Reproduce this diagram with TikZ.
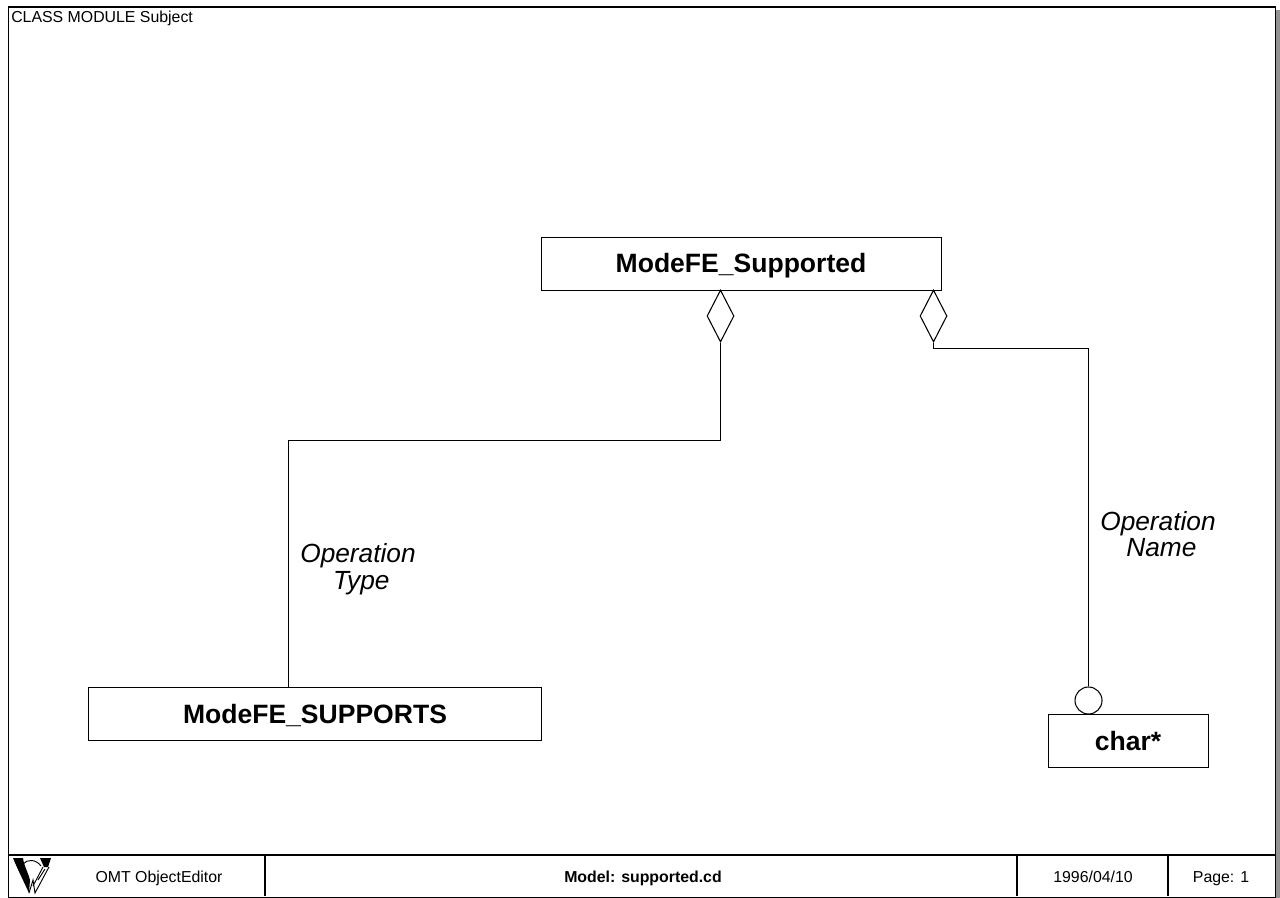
\documentclass[tikz,border=0pt]{standalone}
\usepackage{fontspec}
\setmainfont{Liberation Sans}
\usetikzlibrary{shapes.geometric}
\tikzset{
  x=0.75pt,y=-0.75pt,
  ln/.style={draw=black,line width=0.8pt},
  cls/.style={ln,fill=white,inner sep=0pt,anchor=north west},
  clstext/.style={inner sep=0pt,anchor=base,font=\fontsize{19.9pt}{22pt}\selectfont\bfseries},
  role/.style={align=center,inner sep=0pt,font=\fontsize{19.7pt}{20pt}\selectfont\itshape},
  small/.style={inner sep=0pt,anchor=base,font=\fontsize{11.9pt}{13pt}\selectfont},
  smallb/.style={inner sep=0pt,anchor=base,font=\fontsize{11.9pt}{13pt}\selectfont\bfseries},
  aggr/.style={ln,fill=white,diamond,aspect=1.7,inner sep=0pt,minimum width=27*0.75pt,minimum height=52*0.75pt}
}
\begin{document}
\begin{tikzpicture}
\useasboundingbox (0,0) rectangle (1280,898);
\fill[white] (0,0) rectangle (1280,898);
\fill[gray!85] (1275,10) rectangle (1280,898);
\fill[gray!85] (12,896.5) rectangle (1280,898);
\node[draw=black,line width=1.1pt,anchor=north west,inner sep=0pt,minimum width=1267*0.75pt,minimum height=890*0.75pt] (frame) at (8,6.5) {};
\node[small,anchor=base west] (title) at (11,22.5) {CLASS MODULE Subject};
% footer
\coordinate (fl) at (8,855); \coordinate (fr) at (1275,855);
\draw[draw=black,line width=1.1pt] (fl) -- (fr);
\coordinate (c1t) at (265,855); \coordinate (c1b) at (265,896);
\coordinate (c2t) at (1017,855); \coordinate (c2b) at (1017,896);
\coordinate (c3t) at (1168,855); \coordinate (c3b) at (1168,896);
\draw[draw=black,line width=1.1pt] (c1t)--(c1b) (c2t)--(c2b) (c3t)--(c3b);
\node[small] (tool) at (159,882) {OMT ObjectEditor};
\node[smallb] (model) at (643,882) {Model: supported.cd};
\node[small] (date) at (1093,882) {1996/04/10};
\node[small] (page) at (1221,882) {Page: 1};
% logo
\fill[black] (13,858) -- (23,858) .. controls (24,866) and (28,872) .. (30,880) -- (29,893) .. controls (24,882) and (17,868) .. (13,858) -- cycle;
\fill[black] (40,858) -- (51,858) -- (48,867) -- (44,867) -- cycle;
\draw[black,line width=0.7pt] (23,864) .. controls (27,859) and (36,859) .. (41,866);
\draw[black,line width=0.7pt] (29,893) -- (33,880) -- (35,893) -- (49,867) (33,886) -- (43,867) (38,880) -- (45,869);
% classes
\node[cls,minimum width=400*0.75pt,minimum height=53*0.75pt] (sup) at (541,237) {};
\node[clstext] (supt) at (741,273) {ModeFE\_Supported};
\node[cls,minimum width=453*0.75pt,minimum height=53*0.75pt] (sups) at (88,687) {};
\node[clstext] (supst) at (315,723) {ModeFE\_SUPPORTS};
\node[cls,minimum width=160*0.75pt,minimum height=53*0.75pt] (char) at (1048,714) {};
\node[clstext] (chart) at (1128,750) {char*};
% aggregation diamonds
\node[aggr] (d1) at (720.5,316) {};
\node[aggr] (d2) at (933.5,316) {};
\coordinate (b1) at (720.5,440.5); \coordinate (b1b) at (288.5,440.5);
\node[ln,circle,inner sep=0pt,minimum size=27*0.75pt,fill=white] (o) at (1088.5,700.5) {};
\coordinate (b2) at (933.5,348.5);
\draw[ln] (d1.south) -- (b1) -- (b1b) -- (sups.north -| b1b);
\draw[ln] (d2.south) -- (b2) -- (b2 -| o.north) -- (o.north);
\node[role] (r1) at (358,569) {Operation\\\hspace*{5pt}Type};
\node[role] (r2) at (1158,534) {Operation\\\hspace*{5pt}Name};
\end{tikzpicture}
\end{document}
